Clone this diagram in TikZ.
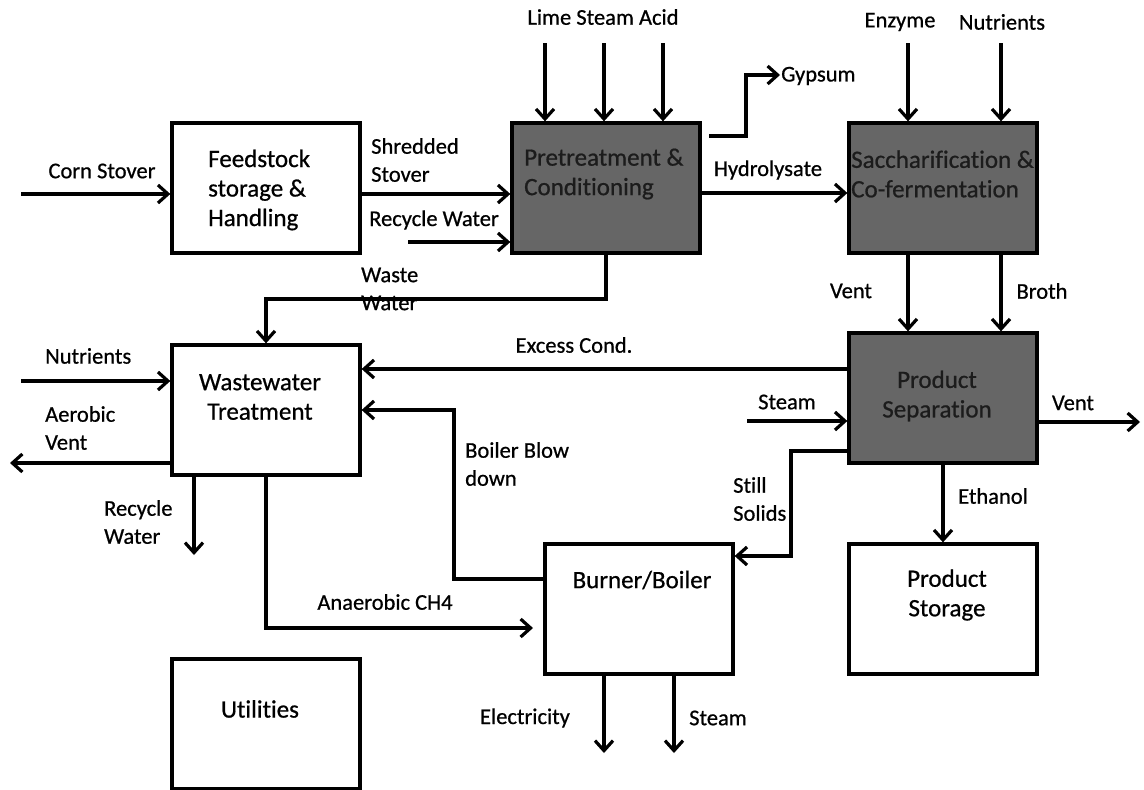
\documentclass[tikz,border=0pt]{standalone}
\usepackage{fontspec}
\setmainfont{Carlito}[RawFeature=-liga, RawFeature={embolden=0.7}]
\usetikzlibrary{arrows.meta}
\definecolor{procgray}{HTML}{666666}
\definecolor{procink}{HTML}{1C1C1C}
\begin{document}
\begin{tikzpicture}[x=1pt,y=-1pt,
  box/.style={draw=black, line width=3.3pt, minimum width=188pt, minimum height=130pt, inner sep=0pt, fill=white},
  gbox/.style={box, fill=procgray},
  lbl/.style={font=\fontsize{22.5}{28}\selectfont, inner sep=0pt, align=left},
  btxt/.style={font=\fontsize{25}{29.5}\selectfont, inner sep=0pt},
  gtxt/.style={font=\fontsize{25}{29.5}\selectfont, inner sep=0pt, text=procink},
  flow/.style={line width=3.2pt, -{Straight Barb[length=10pt,width=18pt]}},
  pipe/.style={line width=3.2pt}]
\useasboundingbox (0,0) rectangle (1144,790);

% boxes
\node[box]  (feed) at (266,188) {};
\node[gbox] (pre)  at (606,188) {};
\node[gbox] (sac)  at (943,188) {};
\node[gbox] (sep)  at (943,398) {};
\node[box]  (ww)   at (266,410) {};
\node[box]  (burn) at (639,609) {};
\node[box]  (stor) at (943,609) {};
\node[box]  (util) at (266,724) {};

% box texts
\node[btxt, anchor=west, align=left] (feedT) at (208,190) {Feedstock\\storage \&\\Handling};
\node[gtxt, anchor=west, align=left] (preT) at (524,174) {Pretreatment \&\\Conditioning};
\node[gtxt, anchor=west, align=left] (sacT) at (851,174) {Saccharification \&\\Co-fermentation};
\node[gtxt, align=center] (sepT) at (937,396) {Product\\Separation};
\node[btxt, align=center] (wwT) at (260,397) {Wastewater\\Treatment};
\node[btxt] (burnT) at (642,580) {Burner/Boiler};
\node[btxt, align=center] (storT) at (947,595) {Product\\Storage};
\node[btxt] (utilT) at (260,709) {Utilities};

% helper coordinates (free ends)
\coordinate (csIn) at (21,194);
\coordinate (rwIn) at (408,242);
\coordinate (limeIn) at (545,43);
\coordinate (steamIn) at (604,43);
\coordinate (acidIn) at (663,43);
\coordinate (gy0) at (709,136);
\coordinate (gy1) at (746,136);
\coordinate (gy2) at (746,75);
\coordinate (gyOut) at (780,75);
\coordinate (enzIn) at (908,43);
\coordinate (nutIn) at (1001,43);
\coordinate (ventOut) at (1140,422);
\coordinate (stIn) at (747,421);
\coordinate (ss1) at (791,451);
\coordinate (ss2) at (791,556);
\coordinate (wwa) at (606,299);
\coordinate (wwb) at (266,299);
\coordinate (nIn) at (21,381);
\coordinate (aeOut) at (10,463);
\coordinate (rwOut) at (194,555);
\coordinate (an1) at (266,628);
\coordinate (anOut) at (533,628);
\coordinate (bb1) at (454,579);
\coordinate (bb2) at (454,410);
\coordinate (elOut) at (604,753);
\coordinate (stOut) at (674,753);
\coordinate (hy) at (0,193);
\coordinate (y194) at (0,194);
\coordinate (y369) at (0,369);
\coordinate (y422) at (0,422);
\coordinate (y463) at (0,463);
\coordinate (x908) at (908,0);
\coordinate (x1001) at (1001,0);
\coordinate (x943) at (943,0);
\coordinate (x194) at (194,0);

% connectors
\draw[flow] (csIn) -- (csIn -| feed.west);
\draw[flow] (feed.east |- y194) -- (pre.west |- y194);
\draw[flow] (rwIn) -- (rwIn -| pre.west);
\draw[flow] (limeIn) -- (limeIn |- pre.north);
\draw[flow] (steamIn) -- (steamIn |- pre.north);
\draw[flow] (acidIn) -- (acidIn |- pre.north);
\draw[flow] (gy0) -- (gy1) -- (gy2) -- (gyOut);
\draw[flow] (pre.east |- hy) -- (sac.west |- hy);
\draw[flow] (enzIn) -- (enzIn |- sac.north);
\draw[flow] (nutIn) -- (nutIn |- sac.north);
\draw[flow] (sac.south -| x908) -- (sep.north -| x908);
\draw[flow] (sac.south -| x1001) -- (sep.north -| x1001);
\draw[flow] (sep.east |- y422) -- (ventOut);
\draw[flow] (stIn) -- (stIn -| sep.west);
\draw[flow] (sep.west |- y369) -- (ww.east |- y369);
\draw[flow] (sep.west |- ss1) -- (ss1) -- (ss2) -- (ss2 -| burn.east);
\draw[flow] (sep.south -| x943) -- (stor.north -| x943);
\draw[flow] (pre.south -| wwa) -- (wwa) -- (wwb) -- (ww.north);
\draw[flow] (nIn) -- (nIn -| ww.west);
\draw[flow] (ww.west |- y463) -- (aeOut);
\draw[flow] (ww.south -| x194) -- (rwOut);
\draw[flow] (ww.south -| an1) -- (an1) -- (anOut);
\draw[flow] (burn.west |- bb1) -- (bb1) -- (bb2) -- (ww.east |- bb2);
\draw[flow] (burn.south -| elOut) -- (elOut);
\draw[flow] (burn.south -| stOut) -- (stOut);

% labels
\node[lbl, anchor=center] (lCorn) at (102,171) {Corn Stover};
\node[lbl, anchor=west] (lShred) at (371,160) {Shredded\\Stover};
\node[lbl, anchor=center] (lRecyc) at (434,220) {Recycle Water};
\node[lbl, anchor=center] (lLime) at (603,17) {Lime Steam Acid};
\node[lbl, anchor=west] (lGyp) at (781,76) {Gypsum};
\node[lbl, anchor=center] (lHyd) at (768,170) {Hydrolysate};
\node[lbl, anchor=center] (lEnz) at (900,22) {Enzyme};
\node[lbl, anchor=center] (lNut) at (1002,22) {Nutrients};
\node[lbl, anchor=center] (lVent) at (851,291) {Vent};
\node[lbl, anchor=center] (lBroth) at (1042,291) {Broth};
\node[lbl, anchor=west] (lWaste) at (361,289) {Waste\\Water};
\node[lbl, anchor=west] (lNut2) at (45,356) {Nutrients};
\node[lbl, anchor=west] (lAer) at (45,428) {Aerobic\\Vent};
\node[lbl, anchor=west] (lRw) at (104,522) {Recycle\\Water};
\node[lbl, anchor=center] (lExc) at (574,345) {Excess Cond.};
\node[lbl, anchor=center] (lSteam) at (787,402) {Steam};
\node[lbl, anchor=center] (lVent2) at (1073,403) {Vent};
\node[lbl, anchor=west] (lBb) at (465,464) {Boiler Blow\\down};
\node[lbl, anchor=west] (lSs) at (733,499) {Still\\Solids};
\node[lbl, anchor=center] (lEth) at (993,496) {Ethanol};
\node[lbl, anchor=center] (lAn) at (385,602) {Anaerobic CH4};
\node[lbl, anchor=center] (lEl) at (525,718) {Electricity};
\node[lbl, anchor=center] (lSt2) at (718,718) {Steam};
\end{tikzpicture}
\end{document}
